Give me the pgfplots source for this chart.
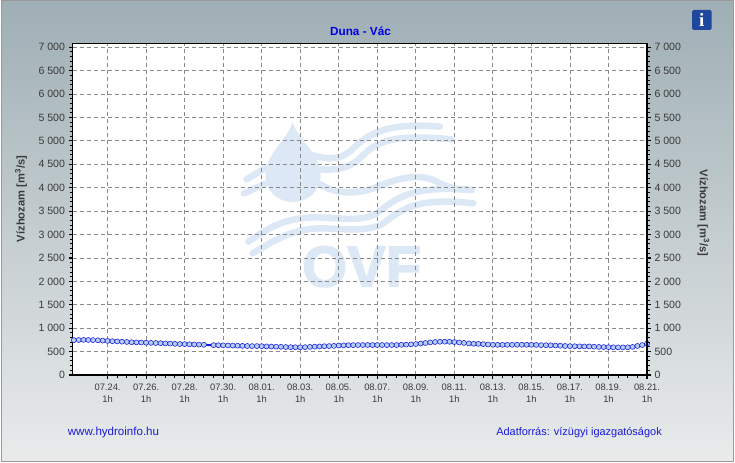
\documentclass[border=0pt]{standalone}
\usepackage{pgfplots}
\usepackage{pgfplotstable}
\pgfplotsset{compat=1.18}
\usepackage{fontspec}
\setmainfont{Liberation Sans}
\newfontfamily\ovffont[FakeBold=2.2]{Liberation Sans Bold}
\usetikzlibrary{calc}
\definecolor{logo}{HTML}{DCE8F5}
\definecolor{bgtop}{HTML}{9FAFB5}
\definecolor{bgbot}{HTML}{E9EBEB}
\definecolor{dblue}{HTML}{1A1AD8}
\definecolor{lblue}{HTML}{B4D0F6}
\definecolor{gridc}{HTML}{8A8A8A}
\definecolor{labc}{HTML}{3A3A3A}
\definecolor{infoc}{HTML}{1F479D}
\pgfplotstableread{
x y
-1.75 745
-1.5 748
-1.25 750
-1 748
-0.75 745
-0.5 742
-0.25 735
0 728
0.25 722
0.5 718
0.75 712
1 706
1.25 700
1.5 697
1.75 694
2 690
2.25 686
2.5 683
2.75 680
3 675
3.25 670
3.5 665
3.75 662
4 660
4.25 656
4.5 652
4.75 650
5 645
5.25 640
5.5 638
5.75 636
6 634
6.25 632
6.5 630
6.75 625
7 622
7.25 620
7.5 618
7.75 618
8 616
8.25 612
8.5 608
8.75 605
9 602
9.25 598
9.5 595
9.75 593
10 592
10.25 595
10.5 600
10.75 605
11 610
11.25 615
11.5 618
11.75 622
12 630
12.25 634
12.5 637
12.75 638
13 640
13.25 640
13.5 641
13.75 640
14 640
14.25 640
14.5 639
14.75 640
15 640
15.25 645
15.5 648
15.75 654
16 662
16.25 672
16.5 684
16.75 696
17 705
17.25 710
17.5 712
17.75 710
18 704
18.25 695
18.5 685
18.75 675
19 668
19.25 665
19.5 660
19.75 652
20 645
20.25 644
20.5 644
20.75 645
21 645
21.25 646
21.5 646
21.75 645
22 645
22.25 642
22.5 638
22.75 636
23 635
23.25 630
23.5 625
23.75 620
24 617
24.25 615
24.5 612
24.75 610
25 610
25.25 605
25.5 600
25.75 597
26 595
26.25 592
26.5 590
26.75 590
27 592
27.25 600
27.5 620
27.75 640
28 670
}\flowdata
\pgfplotsset{base/.style={
  scale only axis, width=574.5bp, height=331.5bp,
  at={(72.5bp,-375bp)}, anchor=south west,
  xmin=-1.82, xmax=28, ymin=0, ymax=7081,
  axis line style={line width=1.8bp,black},
  tick align=outside,
  major tick style={black,line width=1.1bp},
  minor tick style={black,line width=1bp},
  major tick length=4bp, minor tick length=3bp,
  ytick={0,500,...,7000},
  minor y tick num=4,
  y tick label style={font=\fontsize{10.6}{12}\selectfont,text=labc,/pgf/number format/assume math mode=true,/pgf/number format/1000 sep={\ }},
}}
\begin{document}
\begin{tikzpicture}[x=1bp,y=-1bp]
\path[use as bounding box] (0,0) rectangle (735,463);
\fill[white] (0,0) rectangle (735,463);
\shade[top color=bgtop,bottom color=bgbot] (1.5,1.5) rectangle (733,461);
\draw[color=gray!80,line width=1bp] (1,1) rectangle (733.5,461.5);
\fill[white] (72.5,43.5) rectangle (647,375);
% watermark
\begin{scope}[shift={(230,110)},x=0.3333bp,y=-0.3333bp]
\fill[logo] (188,36) .. controls (175,85) and (108,130) .. (106,195)
  .. controls (106,245) and (145,276) .. (188,276)
  .. controls (232,276) and (272,245) .. (272,195)
  .. controls (270,130) and (200,85) .. (188,36) -- cycle;
\begin{scope}[draw=logo,line cap=round,line width=6.5bp]
\draw (245,135) .. controls (300,150) and (335,150) .. (370,115) .. controls (410,75) and (470,35) .. (630,50);
\draw (270,178) .. controls (330,182) and (365,170) .. (395,140) .. controls (440,95) and (480,72) .. (665,88);
\draw (50,208) -- (105,175);
\draw (42,250) -- (105,222);
\draw (270,222) .. controls (310,250) and (370,255) .. (430,235) .. controls (500,205) and (560,190) .. (610,210) .. controls (640,225) and (660,238) .. (725,240);
\draw (55,395) .. controls (120,350) and (170,322) .. (260,322) .. controls (340,325) and (400,335) .. (440,310) .. controls (500,265) and (540,225) .. (725,240);
\draw (68,430) .. controls (130,395) and (180,355) .. (280,355) .. controls (350,358) and (420,365) .. (460,340) .. controls (520,295) and (560,262) .. (730,280);
\end{scope}
\node[text=logo,font=\fontsize{58}{58}\selectfont\ovffont,inner sep=0pt] at (395,470) {OVF};
\end{scope}
% main axis
\begin{axis}[base,
  axis y line*=left, axis x line*=bottom,
  xtick={0,2,...,28},
  minor x tick num=3,
  xticklabels={07.24.\\1h,07.26.\\1h,07.28.\\1h,07.30.\\1h,08.01.\\1h,08.03.\\1h,08.05.\\1h,08.07.\\1h,08.09.\\1h,08.11.\\1h,08.13.\\1h,08.15.\\1h,08.17.\\1h,08.19.\\1h,08.21.\\1h},
  x tick label style={align=center,font=\fontsize{9.4}{12.5}\selectfont,text=labc,yshift=-1bp},
  grid=major,
  major grid style={gridc,line width=0.9bp,dash pattern=on 4bp off 3bp},
  ylabel={\textbf{Vízhozam [m\textsuperscript{3}/s]}},
  ylabel style={font=\fontsize{11.2}{12}\selectfont,text=labc,at={(-51.5bp,176bp)},anchor=center,rotate=0},
  clip=false,
]
\addplot[dblue,line width=2bp,forget plot] table[x=x,y=y] {\flowdata};
\addplot[only marks,mark=*,mark size=2.5bp,
  mark options={draw=dblue,fill=lblue,line width=0.55bp},
  skip coords between index={28}{29}] table[x=x,y=y] {\flowdata};
\end{axis}
% top edge and right axis
\begin{axis}[base,
  axis y line*=right, axis x line*=top,
  xtick=\empty,
  ylabel={\textbf{Vízhozam [m\textsuperscript{3}/s]}},
  ylabel style={font=\fontsize{11.2}{12}\selectfont,text=labc,at={(631bp,162bp)},anchor=center,rotate=180},
]
\end{axis}
\node[text=blue!90!black,font=\fontsize{11.8}{13}\selectfont\bfseries] at (360.5,31) {Duna - Vác};
\node[text=dblue,font=\fontsize{11.6}{13}\selectfont] at (113.5,433) {www.hydroinfo.hu};
\node[text=dblue,font=\fontsize{11}{13}\selectfont] at (579,433) {Adatforrás: vízügyi igazgatóságok};
\fill[color=infoc,rounded corners=1.5bp] (692,10) rectangle (711.5,30);
\node[text=white,font=\fontsize{19}{19}\selectfont\bfseries\fontspec{Liberation Serif}] at (701.8,20) {i};
\end{tikzpicture}
\end{document}
